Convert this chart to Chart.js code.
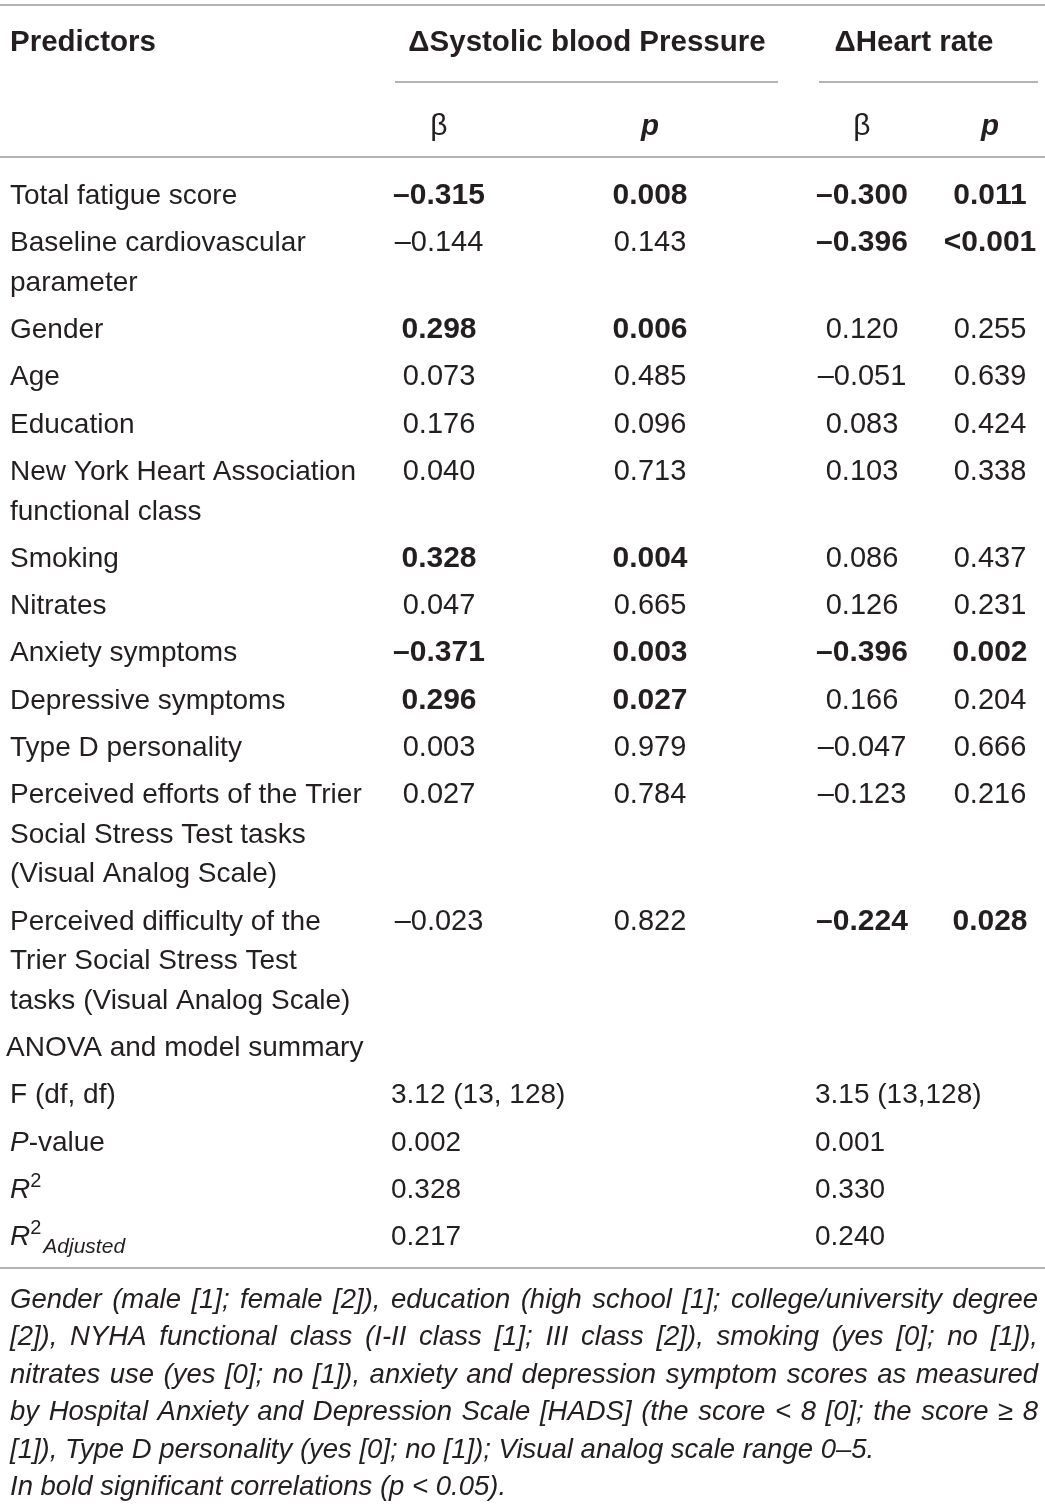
<!DOCTYPE html>
<html><head><meta charset="utf-8">
<script src="https://cdn.jsdelivr.net/npm/chart.js@4/dist/chart.umd.min.js"></script>
<style>html,body{margin:0;padding:0;background:#fff;}canvas{display:block;}</style>
</head><body>
<canvas id="c" width="1045" height="1506"></canvas>
<script>
// ---------- data ----------
const predictors = [
  ["Total fatigue score"],
  ["Baseline cardiovascular", "parameter"],
  ["Gender"],
  ["Age"],
  ["Education"],
  ["New York Heart Association", "functional class"],
  ["Smoking"],
  ["Nitrates"],
  ["Anxiety symptoms"],
  ["Depressive symptoms"],
  ["Type D personality"],
  ["Perceived efforts of the Trier", "Social Stress Test tasks", "(Visual Analog Scale)"],
  ["Perceived difficulty of the", "Trier Social Stress Test", "tasks (Visual Analog Scale)"]
];
const sbpBeta = ["–0.315","–0.144","0.298","0.073","0.176","0.040","0.328","0.047","–0.371","0.296","0.003","0.027","–0.023"];
const sbpP    = ["0.008","0.143","0.006","0.485","0.096","0.713","0.004","0.665","0.003","0.027","0.979","0.784","0.822"];
const hrBeta  = ["–0.300","–0.396","0.120","–0.051","0.083","0.103","0.086","0.126","–0.396","0.166","–0.047","–0.123","–0.224"];
const hrP     = ["0.011","<0.001","0.255","0.639","0.424","0.338","0.437","0.231","0.002","0.204","0.666","0.216","0.028"];
const sbpBold = [1,0,1,0,0,0,1,0,1,1,0,0,0];
const hrBold  = [1,1,0,0,0,0,0,0,1,0,0,0,1];
const groupHeaders = ["ΔSystolic blood Pressure", "ΔHeart rate"];
const summaryTitle = "ANOVA and model summary";
const summaryLabels = ["F (df, df)", "P-value", "R2", "R2Adjusted"];
const sbpSummary = ["3.12 (13, 128)", "0.002", "0.328", "0.217"];
const hrSummary  = ["3.15 (13,128)", "0.001", "0.330", "0.240"];
const footnote = [
  "Gender (male [1]; female [2]), education (high school [1]; college/university degree",
  "[2]), NYHA functional class (I-II class [1]; III class [2]), smoking (yes [0]; no [1]),",
  "nitrates use (yes [0]; no [1]), anxiety and depression symptom scores as measured",
  "by Hospital Anxiety and Depression Scale [HADS] (the score < 8 [0]; the score ≥ 8",
  "[1]), Type D personality (yes [0]; no [1]); Visual analog scale range 0–5.",
  "In bold significant correlations (p < 0.05)."
];

// ---------- layout ----------
const W = 1045, H = 1506;
const FONT = '"Liberation Sans", Arial, sans-serif';
const FS = 28, FSB = 29.5, FSN = 29, FN = 27.5;
const INK = '#231f20', RULE = '#9a9a9a';
const COL = {pred: 10, sb: 439, sp: 650, hb: 862, hp: 990, sumS: 391, sumH: 815};
const FIRST_ROW = 194, ROW_PITCH = 47.3, WRAP_PITCH = 39.5;

// row centers (in y-scale units)
const rowY = [];
let extra = 0;
predictors.forEach((p, i) => { rowY.push(FIRST_ROW + i * ROW_PITCH + extra * WRAP_PITCH); extra += p.length - 1; });
const anovaY = FIRST_ROW + predictors.length * ROW_PITCH + extra * WRAP_PITCH;
const sumY = summaryLabels.map((_, i) => anovaY + (i + 1) * ROW_PITCH);

function pts(x, ys) { return ys.map(y => ({x, y})); }

const datasets = [
  {label: 'pred', data: pts(COL.pred, rowY), texts: predictors.map(p => p), bold: predictors.map(() => 0), align: 'left', num: false},
  {label: 'sb', data: pts(COL.sb, rowY), texts: sbpBeta.map(t => [t]), bold: sbpBold, align: 'center', num: true},
  {label: 'sp', data: pts(COL.sp, rowY), texts: sbpP.map(t => [t]), bold: sbpBold, align: 'center', num: true},
  {label: 'hb', data: pts(COL.hb, rowY), texts: hrBeta.map(t => [t]), bold: hrBold, align: 'center', num: true},
  {label: 'hp', data: pts(COL.hp, rowY), texts: hrP.map(t => [t]), bold: hrBold, align: 'center', num: true},
  {label: 'ss', data: pts(COL.sumS, sumY), texts: sbpSummary.map(t => [t]), bold: sbpSummary.map(() => 0), align: 'left', num: false},
  {label: 'hs', data: pts(COL.sumH, sumY), texts: hrSummary.map(t => [t]), bold: hrSummary.map(() => 0), align: 'left', num: false}
].map(d => Object.assign(d, {pointRadius: 0, pointHoverRadius: 0, showLine: false}));

function font(size, bold, italic) { return (italic ? 'italic ' : '') + (bold ? 'bold ' : '') + size + 'px ' + FONT; }

const tablePlugin = {
  id: 'table',
  beforeDraw(chart) {
    const c = chart.ctx; c.save(); c.fillStyle = '#fff'; c.fillRect(0, 0, chart.width, chart.height); c.restore();
  },
  afterDatasetsDraw(chart) {
    const ctx = chart.ctx, xs = chart.scales.x, ys = chart.scales.y;
    const px = v => xs.getPixelForValue(v), py = v => ys.getPixelForValue(v);
    ctx.save();
    ctx.fillStyle = INK;
    const base = (yc) => yc + 10;
    function txt(s, x, yc, o) {
      o = o || {};
      const size = o.size || (o.bold ? FSB : FS);
      ctx.font = font(size, o.bold, o.italic);
      ctx.textAlign = o.align || 'left';
      ctx.textBaseline = 'alphabetic';
      ctx.fillText(s, x, base(yc) + (o.dy || 0));
      return ctx.measureText(s).width;
    }
    // rules
    ctx.strokeStyle = RULE; ctx.lineWidth = 1.5;
    const hline = (x1, x2, y) => { ctx.beginPath(); ctx.moveTo(px(x1), py(y)); ctx.lineTo(px(x2), py(y)); ctx.stroke(); };
    hline(0, W, 5); hline(395, 778, 82); hline(819, 1038, 82); hline(0, W, 157); hline(0, W, 1268);

    // headers
    txt("Predictors", px(COL.pred), py(41), {bold: true});
    txt(groupHeaders[0], px(587), py(41), {bold: true, align: 'center'});
    txt(groupHeaders[1], px(914), py(41), {bold: true, align: 'center'});
    txt("β", px(COL.sb), py(125), {align: 'center', size: 30});
    txt("p", px(COL.sp), py(125), {align: 'center', bold: true, italic: true});
    txt("β", px(COL.hb), py(125), {align: 'center', size: 30});
    txt("p", px(COL.hp), py(125), {align: 'center', bold: true, italic: true});

    // body cells from dataset elements
    chart.data.datasets.forEach((ds, di) => {
      const meta = chart.getDatasetMeta(di);
      meta.data.forEach((el, i) => {
        ds.texts[i].forEach((line, j) => {
          const yc = py(ds.data[i].y + j * WRAP_PITCH);
          const b = !!ds.bold[i];
          txt(line, el.x, yc, {bold: b, align: ds.align, size: ds.num ? (b ? 30 : FSN) : undefined});
        });
      });
    });

    // summary block
    txt(summaryTitle, px(6), py(anovaY));
    txt(summaryLabels[0], px(COL.pred), py(sumY[0]));
    let x = px(COL.pred);
    x += txt("P", x, py(sumY[1]), {italic: true});
    txt("-value", x, py(sumY[1]));
    x = px(COL.pred);
    x += txt("R", x, py(sumY[2]), {italic: true});
    txt("2", x, py(sumY[2]), {size: 20, dy: -11});
    x = px(COL.pred);
    x += txt("R", x, py(sumY[3]), {italic: true});
    const w2 = txt("2", x, py(sumY[3]), {size: 20, dy: -11});
    txt("Adjusted", x + w2 + 2, py(sumY[3]), {size: 21, italic: true, dy: 8});

    // footnote (justified except last two lines)
    const L = px(10), R = px(1038), avail = R - L;
    footnote.forEach((line, i) => {
      const yc = py(1298 + i * 37.4);
      ctx.font = font(FN, false, true);
      ctx.textAlign = 'left';
      const bl = base(yc);
      const natural = ctx.measureText(line).width;
      const justify = i < 4;
      if (natural > avail) {
        ctx.save(); ctx.translate(L, bl); ctx.scale(avail / natural, 1); ctx.fillText(line, 0, 0); ctx.restore();
      } else if (justify) {
        const words = line.split(' ');
        const ww = words.map(w => ctx.measureText(w).width);
        const gap = (avail - ww.reduce((a, b) => a + b, 0)) / (words.length - 1);
        let xx = L;
        words.forEach((w, k) => { ctx.fillText(w, xx, bl); xx += ww[k] + gap; });
      } else {
        ctx.fillText(line, L, bl);
      }
    });
    ctx.restore();
  }
};

new Chart(document.getElementById('c'), {
  type: 'scatter',
  data: {datasets},
  options: {
    responsive: false,
    animation: false,
    devicePixelRatio: 1,
    layout: {padding: 0},
    plugins: {legend: {display: false}, tooltip: {enabled: false}},
    events: [],
    scales: {
      x: {type: 'linear', min: 0, max: W, display: false},
      y: {type: 'linear', min: 0, max: H, reverse: true, display: false}
    }
  },
  plugins: [tablePlugin]
});
</script>
</body></html>
